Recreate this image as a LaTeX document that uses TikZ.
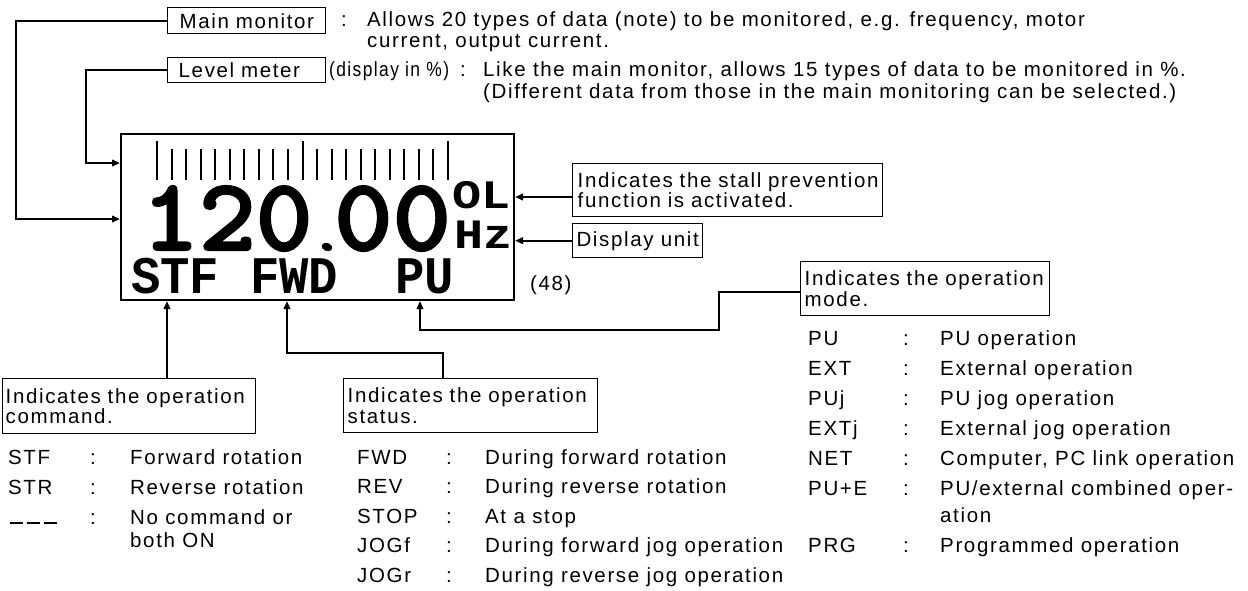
\documentclass[tikz,border=0pt]{standalone}
\usepackage{fontspec}
\setmainfont{Liberation Sans}[LetterSpace=8]
\newfontfamily\lcdfont{Liberation Mono}
\newfontfamily\lcdnum{lmmonolt10-bold.otf}[FakeBold=2]
\usetikzlibrary{arrows.meta}
\begin{document}
\begin{tikzpicture}[x=1pt,y=-1pt,
  every node/.append style={font=\fontsize{20.5}{20.5}\selectfont, inner sep=0pt},
  box/.style={draw, line width=1.4pt, anchor=north west, inner ysep=0pt, align=left},
  conn/.style={line width=2.2pt},
  arr/.style={conn, -{Triangle[length=8pt,width=6.5pt]}},
  txt/.style={anchor=base west},
  lcd/.style={anchor=base west, font=\lcdfont\bfseries\fontsize{#1}{#1}\selectfont},
  lcdn/.style={anchor=base west, font=\lcdnum\fontsize{103}{103}\selectfont},
  tick/.style={line width=2pt}]
\useasboundingbox (0,0) rectangle (1248,590);
% display
\node[draw, line width=2pt, anchor=north west, minimum width=393pt, minimum height=166pt] (disp) at (120,133) {};
\foreach \i in {1,...,9,11,12,...,19} {\draw[tick] ({157+14.55*\i},149) -- ({157+14.55*\i},180);}
\foreach \i in {0,10,20} {\draw[tick] ({157+14.55*\i},141) -- ({157+14.55*\i},180);}
\node[lcdn] (num1) at (142,250) {\raisebox{0pt}[\height][0pt]{\scalebox{1.05}[1]{120}}};
\node[lcdn] (num2) at (334,250) {\raisebox{0pt}[\height][0pt]{\scalebox{1.08}[1]{00}}};
\fill[rotate around={-20:(327,247)}] (327,247) ellipse [x radius=5.5, y radius=4];
\node[lcd=44] (ol) at (452,208) {\scalebox{1.1}[0.92]{OL}};
\node[lcd=44] (hz) at (454,248) {\scalebox{1.1}[0.95]{Hz}};
\node[lcd=48] (stf) at (131,293) {\scalebox{1.02}[1.1]{STF}};
\node[lcd=48] (fwd) at (250,293) {\scalebox{1.02}[1.1]{FWD}};
\node[lcd=48] (pu) at (395,293) {\scalebox{1.02}[1.1]{PU}};
\node[txt] (n48) at (530,290) {(48)};
% top boxes and text
\node[box, inner xsep=12pt, text width=134pt, minimum height=26pt] (mm) at (167,7) {Main monitor};
\node[box, inner xsep=11pt, text width=136pt, minimum height=25pt] (lm) at (167,57) {Level meter};
\node[txt] (col1) at (341,26) {:};
\node[txt] (d1) at (367,26) {Allows 20 types of data (note) to be monitored, e.g. frequency, motor};
\node[txt] (d2) at (367,47) {current, output current.};
\node[txt] (dp) at (329,76) {\scalebox{0.85}[1]{(display in \%)}};
\node[txt] (col2) at (460,76) {:};
\node[txt] (d3) at (483,76) {Like the main monitor, allows 15 types of data to be monitored in \%.};
\node[txt] (d4) at (483,98) {(Different data from those in the main monitoring can be selected.)};
% right boxes
\node[box, inner xsep=5pt, text width=300pt, minimum height=53pt] (stall) at (572,163) {Indicates the stall prevention\\function is activated.};
\node[box, minimum width=130pt, minimum height=34pt, align=center] (unit) at (572,223) {Display unit};
\node[box, inner xsep=4pt, text width=241pt, minimum height=54pt] (mode) at (800,261) {Indicates the operation\\mode.};
% bottom boxes
\node[box, inner xsep=3pt, text width=247pt, minimum height=55pt] (cmd) at (2,378) {Indicates the operation\\command.};
\node[box, inner xsep=4pt, text width=246pt, minimum height=54pt] (stat) at (343,378) {Indicates the operation\\status.};
% connectors
\coordinate (c1) at (16,219);
\coordinate (c2) at (86,163);
\coordinate (c3) at (540,197);
\coordinate (c4) at (719,292);
\coordinate (c5) at (420,330);
\coordinate (c6) at (167,340);
\coordinate (c7) at (443,353);
\coordinate (c8) at (287,353);
\draw[arr] (mm.west) -| (c1) -- (disp.west |- c1);
\draw[arr] (lm.west) -| (c2) -- (disp.west |- c2);
\draw[arr] (stall.west |- c3) -- (disp.east |- c3);
\draw[arr] (unit.west) -- (disp.east |- unit.west);
\draw[arr] (mode.west |- c4) -- (c4) |- (c5) -- (c5 |- disp.south);
\draw[arr] (cmd.north -| c6) -- (c6 |- disp.south);
\draw[arr] (stat.north -| c7) -- (c7) -- (c8) -- (c8 |- disp.south);
% command list
\node[txt] (k1) at (8,464) {STF};   \node[txt] (q1) at (90,464) {:}; \node[txt] (v1) at (130,464) {Forward rotation};
\node[txt] (k2) at (8,494) {STR};   \node[txt] (q2) at (90,494) {:}; \node[txt] (v2) at (130,494) {Reverse rotation};
\node[txt] (k3) at (10,524) {\rule{13pt}{2.4pt}\hspace{4pt}\rule{13pt}{2.4pt}\hspace{4pt}\rule{13pt}{2.4pt}};
\node[txt] (q3) at (90,524) {:}; \node[txt] (v3) at (130,524) {No command or};
\node[txt] (v3b) at (130,547) {both ON};
% status list
\node[txt] (s1) at (357,464) {FWD};  \node[txt] (t1) at (446,464) {:}; \node[txt] (u1) at (485,464) {During forward rotation};
\node[txt] (s2) at (357,493.5) {REV};  \node[txt] (t2) at (446,493.5) {:}; \node[txt] (u2) at (485,493.5) {During reverse rotation};
\node[txt] (s3) at (357,523) {STOP}; \node[txt] (t3) at (446,523) {:}; \node[txt] (u3) at (485,523) {At a stop};
\node[txt] (s4) at (357,552.5) {JOGf}; \node[txt] (t4) at (446,552.5) {:}; \node[txt] (u4) at (485,552.5) {During forward jog operation};
\node[txt] (s5) at (357,582) {JOGr}; \node[txt] (t5) at (446,582) {:}; \node[txt] (u5) at (485,582) {During reverse jog operation};
% mode list
\node[txt] (m1) at (808,345) {PU};   \node[txt] (p1) at (903,345) {:}; \node[txt] (r1) at (940,345) {PU operation};
\node[txt] (m2) at (808,375) {EXT};  \node[txt] (p2) at (903,375) {:}; \node[txt] (r2) at (940,375) {External operation};
\node[txt] (m3) at (808,405) {PUj};  \node[txt] (p3) at (903,405) {:}; \node[txt] (r3) at (940,405) {PU jog operation};
\node[txt] (m4) at (808,435) {EXTj}; \node[txt] (p4) at (903,435) {:}; \node[txt] (r4) at (940,435) {External jog operation};
\node[txt] (m5) at (808,465) {NET};  \node[txt] (p5) at (903,465) {:}; \node[txt] (r5) at (940,465) {Computer, PC link operation};
\node[txt] (m6) at (808,495) {PU+E}; \node[txt] (p6) at (903,495) {:}; \node[txt] (r6) at (940,495) {PU/external combined oper-};
\node[txt] (r6b) at (940,522) {ation};
\node[txt] (m7) at (808,552) {PRG};  \node[txt] (p7) at (903,552) {:}; \node[txt] (r7) at (940,552) {Programmed operation};
\end{tikzpicture}
\end{document}
